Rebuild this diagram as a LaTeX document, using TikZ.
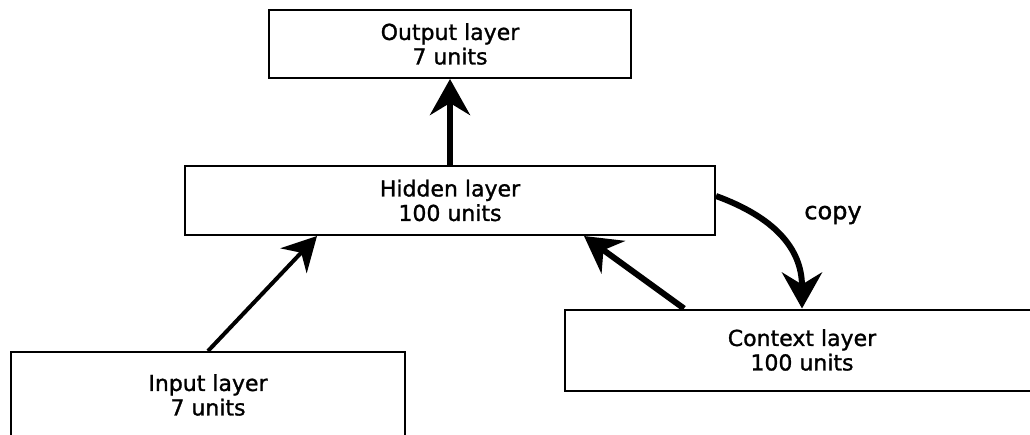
\documentclass[tikz,border=0pt]{standalone}
\usepackage{fontspec}
\newfontfamily\dejavu[FakeBold=1.2]{DejaVu Sans}
\usetikzlibrary{arrows.meta,calc}
\begin{document}
\begin{tikzpicture}[x=1pt,y=-1pt,
  layerbox/.style={draw=black, line width=2pt, align=center, inner sep=0pt,
    font=\dejavu\fontsize{22}{24.5}\selectfont},
  thinarrow/.style={line width=4pt, -{Stealth[length=34pt,width=36pt,inset=11pt]}},
  thickarrow/.style={line width=6pt, -{Stealth[length=36pt,width=40pt,inset=12pt]}},
  lbl/.style={font=\dejavu\fontsize{24}{26}\selectfont, inner sep=0pt}]
\useasboundingbox (0,0) rectangle (1030,434);
\clip (0,0) rectangle (1030,434);
\fill[white] (0,0) rectangle (1030,434);
% layers
\node[layerbox, minimum width=362pt, minimum height=68pt] (out) at (450,44) {Output layer\\7 units};
\node[layerbox, minimum width=530pt, minimum height=69pt] (hid) at (450,200.5) {Hidden layer\\100 units};
\node[layerbox, minimum width=394pt, minimum height=86pt] (inp) at (208,395) {Input layer\\7 units};
\node[layerbox, minimum width=474pt, minimum height=81pt] (ctx) at (802,350) {Context layer\\100 units};
% connection points
\coordinate (hidin) at ($(hid.south west)+(133,0)$);
\coordinate (hidctx) at ($(hid.south west)+(400,0)$);
\coordinate (ctxout) at ($(ctx.north west)+(120,0)$);
\coordinate (hidcopy) at ($(hid.east)+(0,-4.5)$);
% connectors
\draw[thickarrow] (hid.north) -- (out.south);
\draw[thinarrow] (inp.north) -- (hidin);
\draw[thickarrow] (ctxout) -- (hidctx);
\draw[thickarrow] (hidcopy) to[out=-20,in=90,looseness=1.1] (ctx.north);
\node[lbl] (copy) at (833,215) {copy};
\end{tikzpicture}
\end{document}
